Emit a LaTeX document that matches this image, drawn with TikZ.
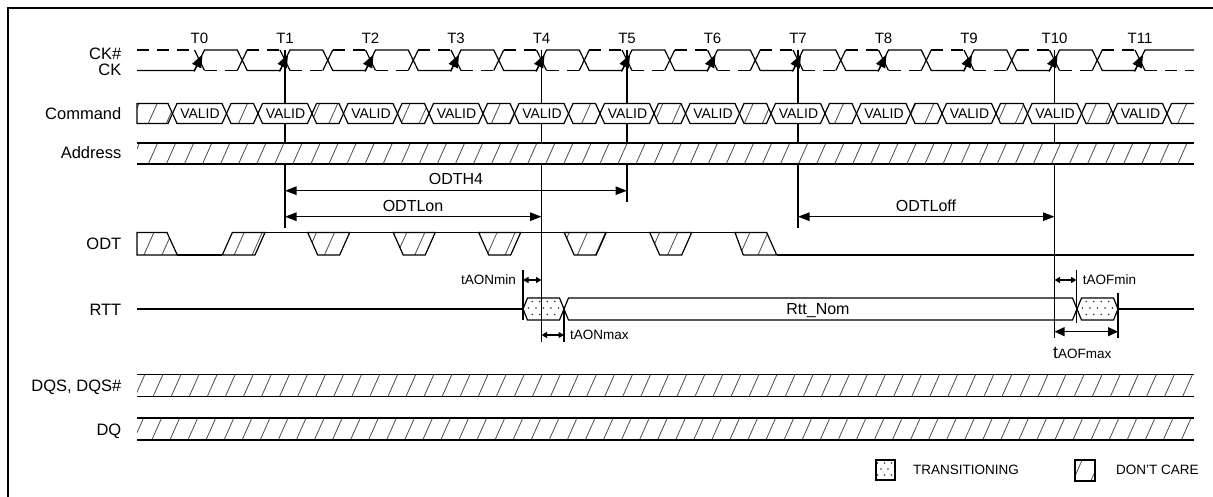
\documentclass[tikz,border=0pt]{standalone}
\usepackage{fontspec}
\setmainfont{Liberation Sans}
\usetikzlibrary{arrows.meta,patterns.meta}
\begin{document}
\begin{tikzpicture}[x=1pt,y=-1pt,
  sig/.style={line width=1.2pt, line join=miter},
  ckdash/.style={line width=1.2pt, dash pattern=on 12pt off 8pt},
  hatched/.style={preaction={fill=white}, pattern={Lines[angle=66,distance=16.5pt,line width=0.8pt]}, pattern color=black!70},
  lbl/.style={font=\fontsize{16.5}{19}\selectfont, anchor=base east, inner sep=0pt},
  tlbl/.style={font=\fontsize{15}{18}\selectfont, anchor=base, inner sep=0pt},
  small/.style={font=\fontsize{13.5}{15}\selectfont, inner sep=0pt},
  midlbl/.style={font=\fontsize{16}{19}\selectfont, inner sep=0pt, anchor=base},
  bigdim/.style={line width=1.2pt, {Triangle[length=11.5pt,width=8.5pt]}-{Triangle[length=11.5pt,width=8.5pt]}},
  smalldim/.style={line width=1.2pt, {Triangle[length=5.5pt,width=6pt]}-{Triangle[length=5.5pt,width=6pt]}},
  meddim/.style={line width=1.2pt, {Triangle[length=10pt,width=9pt]}-{Triangle[length=10pt,width=9pt]}},
  dotc/.style={fill=black!80}
]
\useasboundingbox (0,0) rectangle (1213,497);
% frame
\draw[line width=2pt] (7.5,497) -- (7.5,8.5) -- (1213,8.5);

% signal names
\node[lbl] (lckn) at (121.5,59.3) {CK\#};
\node[lbl] (lck) at (121.5,76) {CK};
\node[lbl] (lcmd) at (121.5,119.3) {Command};
\node[lbl] (ladr) at (121.5,158.3) {Address};
\node[lbl] (lodt) at (121.5,249.3) {ODT};
\node[lbl] (lrtt) at (121.5,315.7) {RTT};
\node[lbl] (ldqs) at (121.5,391.3) {DQS, DQS\#};
\node[lbl] (ldq) at (121.5,435) {DQ};

% clock labels
\foreach \k in {0,...,11} {
  \pgfmathsetmacro\t{199.5+85.5*\k}
  \node[tlbl] (t\k) at (\t,44) {T\k};
}

% vertical reference lines
\coordinate (v1a) at (285,50);   \coordinate (v1b) at (285,227.7);
\coordinate (v4a) at (541.5,50); \coordinate (v4b) at (541.5,341.7);
\coordinate (v5a) at (627,50);   \coordinate (v5b) at (627,201.7);
\coordinate (v7a) at (798,50);   \coordinate (v7b) at (798,228.3);
\coordinate (v10a) at (1054.5,50); \coordinate (v10b) at (1054.5,338);
\draw[sig] (v1a) -- (v1b) (v4a) -- (v4b) (v5a) -- (v5b) (v7a) -- (v7b) (v10a) -- (v10b);

% CK (solid)
\draw[sig] (137,70.5)
  foreach \k in {0,...,10} { -- ({199.5+85.5*\k-5},70.5) -- ({199.5+85.5*\k+5},50) -- ({199.5+85.5*\k+37.75},50) -- ({199.5+85.5*\k+47.75},70.5) }
  -- (1135,70.5) -- (1145,50) -- (1194,50);
% CK# (dashed)
\draw[ckdash] (137,50) -- (194.5,50);
\foreach \k in {0,...,10} {
  \pgfmathsetmacro\t{199.5+85.5*\k}
  \draw[ckdash] (\t+5,70.5) -- (\t+37.75,70.5);
  \draw[ckdash] (\t+47.75,50) -- (\t+80.5,50);
  \draw[sig] (\t+37.75,70.5) -- (\t+47.75,50);
}
\draw[ckdash] (1145,70.5) -- (1194,70.5);
\foreach \k in {0,...,11} {
  \pgfmathsetmacro\t{199.5+85.5*\k}
  \draw[sig] (\t-5,50) -- (\t+5,70.5);
  \draw[line width=1.2pt, -{Triangle[length=13pt,width=10pt]}] (\t-5.5,71.5) -- (\t+3,54.5);
}

% Command bus
\draw[sig, hatched] (137,103.5) -- (168,103.5) -- (172.5,113.5) -- (168,123.5) -- (137,123.5) -- cycle;
\foreach \k in {0,...,10} {
  \pgfmathsetmacro\a{199.5+85.5*\k+27}
  \pgfmathsetmacro\b{199.5+85.5*\k+58.5}
  \draw[sig, hatched] (\a,113.5) -- (\a+4.5,103.5) -- (\b-4.5,103.5) -- (\b,113.5) -- (\b-4.5,123.5) -- (\a+4.5,123.5) -- cycle;
}
\fill[hatched] (1167,113.5) -- (1171.5,103.5) -- (1194,103.5) -- (1194,123.5) -- (1171.5,123.5) -- cycle;
\draw[sig] (1194,103.5) -- (1171.5,103.5) -- (1167,113.5) -- (1171.5,123.5) -- (1194,123.5);
\foreach \k in {0,...,11} {
  \pgfmathsetmacro\t{199.5+85.5*\k}
  \draw[sig, fill=white] (\t-27,113.5) -- (\t-22.5,103.5) -- (\t+22.5,103.5) -- (\t+27,113.5) -- (\t+22.5,123.5) -- (\t-22.5,123.5) -- cycle;
  \node[small, font=\fontsize{14}{16}\selectfont] (val\k) at (\t+0.5,113.5) {VALID};
}

% Address, DQS, DQ bars
\fill[hatched] (137,143) rectangle (1194,164);
\draw[sig] (137,143) -- (1194,143) (137,164) -- (1194,164);
\fill[hatched] (137,374.5) rectangle (1194,396.5);
\draw[sig] (137,374.5) -- (1194,374.5) (137,396.5) -- (1194,396.5);
\fill[hatched] (137,418) rectangle (1194,440);
\draw[sig] (137,418) -- (1194,418) (137,440) -- (1194,440);

% timing arrows
\draw[bigdim] (285,190.7) -- (627,190.7);
\node[midlbl] (odth4) at (456,184.5) {ODTH4};
\draw[bigdim] (285,216.7) -- (541.5,216.7);
\node[midlbl] (odtlon) at (413,211.7) {ODTLon};
\draw[bigdim] (798,216.7) -- (1054.5,216.7);
\node[midlbl] (odtloff) at (926,211.7) {ODTLoff};

% ODT
\draw[sig, hatched] (137,232.5) -- (167,232.5) -- (177.3,255) -- (137,255) -- cycle;
\draw[sig] (177.3,255) -- (222.3,255);
\draw[sig, hatched] (222.3,255) -- (232.3,232.5) -- (265,232.5) -- (255,255) -- cycle;
\draw[sig] (265,232.5) -- (735,232.5);
\foreach \k in {1,...,5} {
  \pgfmathsetmacro\c{243.2+85.5*\k}
  \draw[sig, hatched] (\c-21,232.5) -- (\c+21,232.5) -- (\c+11,255) -- (\c-11,255) -- cycle;
}
\draw[sig, hatched] (735,232.5) -- (766.7,232.5) -- (776.7,255) -- (743.3,255) -- cycle;
\draw[sig] (776.7,255) -- (1194,255);

% RTT
\draw[sig] (137,309) -- (523,309);
\begin{scope}
  \clip (523,309) -- (527.5,298) -- (559.5,298) -- (564,309) -- (559.5,320) -- (527.5,320) -- cycle;
  \foreach \yy [count=\r] in {301.5,308,314.5}
    \foreach \xx in {0,...,6}
      \fill[dotc] ({521+\xx*7.5+mod(\r,2)*3.75},\yy) circle (0.9);
\end{scope}
\draw[sig] (523,309) -- (527.5,298) -- (559.5,298) -- (564,309) -- (559.5,320) -- (527.5,320) -- cycle;
\draw[sig] (564,309) -- (568.5,298) -- (1072.5,298) -- (1077,309) -- (1072.5,320) -- (568.5,320) -- cycle;
\node[midlbl] (rttnom) at (818,314.5) {Rtt\_Nom};
\begin{scope}
  \clip (1077,309) -- (1081.5,298) -- (1113.5,298) -- (1118,309) -- (1113.5,320) -- (1081.5,320) -- cycle;
  \foreach \yy [count=\r] in {301.5,308,314.5}
    \foreach \xx in {0,...,6}
      \fill[dotc] ({1075+\xx*7.5+mod(\r,2)*3.75},\yy) circle (0.9);
\end{scope}
\draw[sig] (1077,309) -- (1081.5,298) -- (1113.5,298) -- (1118,309) -- (1113.5,320) -- (1081.5,320) -- cycle;
\draw[sig] (1118,309) -- (1194,309);

% tAON / tAOF dimensions
\draw[sig] (523,270) -- (523,320);
\draw[smalldim] (523,280) -- (541.5,280);
\node[small, anchor=base east] (taonmin) at (516,284.3) {tAONmin};
\draw[sig] (564,309) -- (564,341.7);
\draw[smalldim] (541.5,335) -- (564,335);
\node[small, anchor=base west] (taonmax) at (570,339.8) {tAONmax};
\draw[sig] (1076.5,270) -- (1076.5,323);
\draw[smalldim] (1054.5,280) -- (1076.5,280);
\node[small, anchor=base west] (taofmin) at (1082.7,284.3) {tAOFmin};
\draw[sig] (1118,293) -- (1118,338);
\draw[meddim] (1054.5,331.7) -- (1118,331.7);
\node[anchor=base west, inner sep=0pt] (taofmax) at (1053,358.3) {\fontsize{17.5}{19}\selectfont t\fontsize{13.5}{15}\selectfont AOFmax};

% legend
\begin{scope}
  \clip (876,460) rectangle (895,480);
  \foreach \yy [count=\r] in {463,469,475,481}
    \foreach \xx in {0,...,3}
      \fill[dotc] ({874+\xx*7+mod(\r,2)*3.5},\yy) circle (0.9);
\end{scope}
\draw[line width=1.2pt] (876,460) rectangle (895,480);
\node[small, anchor=base west] (ltrans) at (913,474) {TRANSITIONING};
\draw[line width=1.2pt, hatched] (1075,460) rectangle (1095,481);
\node[small, anchor=base west] (ldc) at (1116,474) {DON'T CARE};
\end{tikzpicture}
\end{document}
